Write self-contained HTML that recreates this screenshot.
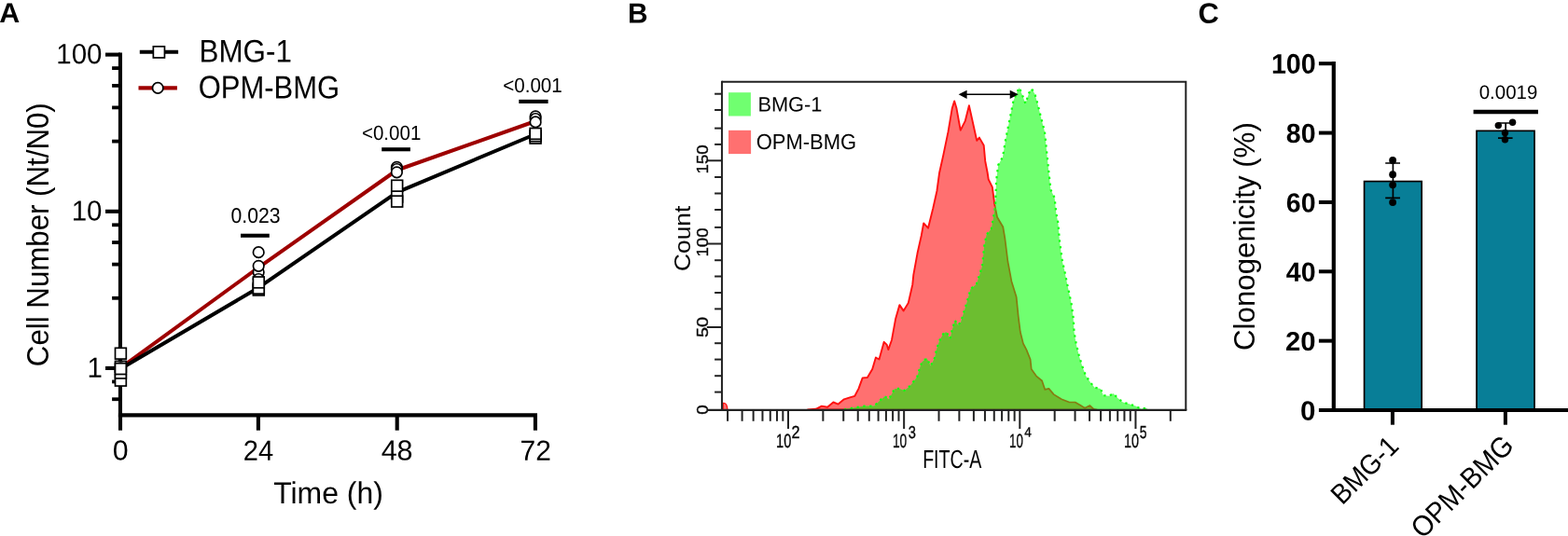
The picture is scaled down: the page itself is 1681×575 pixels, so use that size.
<!DOCTYPE html>
<html lang="en"><head><meta charset="utf-8"><title>Figure</title>
<style>html,body{margin:0;padding:0;background:#fff;}body{width:1681px;height:575px;overflow:hidden;}svg{display:block;}text{font-family:"Liberation Sans", Arial, Helvetica, sans-serif;fill:#000;}</style>
</head><body>
<svg width="1681" height="575" viewBox="0 0 1681 575">
<rect width="1681" height="575" fill="#fff"/>
<g id="panelA">
<text transform="translate(-0.76 24.00) rotate(0.03) scale(1.0149 1)" font-size="30.00" font-weight="bold">A</text>
<g stroke="#000" stroke-width="4.10" fill="none">
<path d="M128.95 56.55 V447.40"/>
<path d="M126.90 445.35 H575.95"/>
<path d="M113.00 58.60 H128.95"/>
<path d="M113.00 226.80 H128.95"/>
<path d="M113.00 394.95 H128.95"/>
<path d="M120.10 73.10 H128.95" stroke-width="3.8"/>
<path d="M120.10 91.90 H128.95" stroke-width="3.8"/>
<path d="M120.10 115.40 H128.95" stroke-width="3.8"/>
<path d="M120.10 151.60 H128.95" stroke-width="3.8"/>
<path d="M120.10 241.30 H128.95" stroke-width="3.8"/>
<path d="M120.10 260.10 H128.95" stroke-width="3.8"/>
<path d="M120.10 283.60 H128.95" stroke-width="3.8"/>
<path d="M120.10 319.80 H128.95" stroke-width="3.8"/>
<path d="M120.10 409.45 H128.95" stroke-width="3.8"/>
<path d="M120.10 428.25 H128.95" stroke-width="3.8"/>
<path d="M129.00 445.35 V461.70"/>
<path d="M276.90 445.35 V461.70"/>
<path d="M425.70 445.35 V461.70"/>
<path d="M573.90 445.35 V461.70"/>
</g>
<text transform="translate(60.29 68.29) rotate(0.03) scale(0.9647 1)" font-size="30.56">100</text>
<text transform="translate(76.65 236.54) rotate(0.03) scale(0.9647 1)" font-size="30.56">10</text>
<text transform="translate(93.51 404.69) rotate(0.03) scale(0.9647 1)" font-size="30.56">1</text>
<text transform="translate(120.69 493.60) rotate(0.03) scale(0.9965 1)" font-size="30.42">0</text>
<text transform="translate(260.74 493.70) rotate(0.03) scale(0.9527 1)" font-size="30.57">24</text>
<text transform="translate(408.64 493.60) rotate(0.03) scale(1.0034 1)" font-size="30.42">48</text>
<text transform="translate(557.50 493.70) rotate(0.03) scale(0.9813 1)" font-size="30.57">72</text>
<text transform="translate(293.16 540.05) rotate(0.03) scale(0.9793 1)" font-size="32.62">Time (h)</text>
<text transform="translate(52.23 393.16) rotate(-90) scale(0.9548 1)" font-size="32.73">Cell Number (Nt/N0)</text>
<polyline points="129.0,394.9 277.0,287.1 425.5,182.5 574.0,130.0" fill="none" stroke="#9e0000" stroke-width="4" stroke-linejoin="round"/>
<polyline points="129.0,395.8 277.0,308.7 425.5,206.3 574.0,144.0" fill="none" stroke="#000" stroke-width="4" stroke-linejoin="round"/>
<rect x="123.50" y="402.25" width="11.80" height="11.80" fill="#fff" stroke="#000" stroke-width="1.70"/>
<rect x="123.50" y="394.15" width="11.80" height="11.80" fill="#fff" stroke="#000" stroke-width="1.70"/>
<rect x="123.50" y="387.40" width="11.80" height="11.80" fill="#fff" stroke="#000" stroke-width="1.70"/>
<circle cx="129.40" cy="394.95" r="5.75" fill="#fff" stroke="#000" stroke-width="1.70"/>
<rect x="123.50" y="389.70" width="11.80" height="11.80" fill="#fff" stroke="#000" stroke-width="1.70"/>
<rect x="123.50" y="373.30" width="11.80" height="11.80" fill="#fff" stroke="#000" stroke-width="1.70"/>
<circle cx="277.20" cy="292.00" r="5.75" fill="#fff" stroke="#000" stroke-width="1.70"/>
<circle cx="277.20" cy="299.50" r="5.75" fill="#fff" stroke="#000" stroke-width="1.70"/>
<circle cx="277.20" cy="285.30" r="5.75" fill="#fff" stroke="#000" stroke-width="1.70"/>
<circle cx="277.20" cy="270.65" r="5.75" fill="#fff" stroke="#000" stroke-width="1.70"/>
<rect x="271.40" y="305.10" width="11.80" height="11.80" fill="#fff" stroke="#000" stroke-width="1.70"/>
<rect x="271.40" y="303.30" width="11.80" height="11.80" fill="#fff" stroke="#000" stroke-width="1.70"/>
<rect x="271.40" y="297.00" width="11.80" height="11.80" fill="#fff" stroke="#000" stroke-width="1.70"/>
<circle cx="425.40" cy="179.30" r="5.75" fill="#fff" stroke="#000" stroke-width="1.70"/>
<circle cx="425.40" cy="181.50" r="5.75" fill="#fff" stroke="#000" stroke-width="1.70"/>
<circle cx="425.40" cy="184.80" r="5.75" fill="#fff" stroke="#000" stroke-width="1.70"/>
<rect x="419.80" y="205.10" width="11.80" height="11.80" fill="#fff" stroke="#000" stroke-width="1.70"/>
<rect x="419.80" y="210.20" width="11.80" height="11.80" fill="#fff" stroke="#000" stroke-width="1.70"/>
<rect x="419.80" y="193.30" width="11.80" height="11.80" fill="#fff" stroke="#000" stroke-width="1.70"/>
<rect x="568.20" y="142.20" width="11.80" height="11.80" fill="#fff" stroke="#000" stroke-width="1.70"/>
<rect x="568.20" y="139.90" width="11.80" height="11.80" fill="#fff" stroke="#000" stroke-width="1.70"/>
<rect x="568.20" y="137.50" width="11.80" height="11.80" fill="#fff" stroke="#000" stroke-width="1.70"/>
<circle cx="574.10" cy="124.80" r="5.75" fill="#fff" stroke="#000" stroke-width="1.70"/>
<circle cx="574.10" cy="127.50" r="5.75" fill="#fff" stroke="#000" stroke-width="1.70"/>
<circle cx="574.10" cy="130.90" r="5.75" fill="#fff" stroke="#000" stroke-width="1.70"/>
<text transform="translate(247.55 238.97) rotate(0.03) scale(0.9235 1)" font-size="22.96">0.023</text>
<path d="M258.0 252.75 H288.8" stroke="#000" stroke-width="4.1"/>
<text transform="translate(387.97 149.98) rotate(0.03) scale(0.9347 1)" font-size="21.97">&lt;0.001</text>
<path d="M409.2 160.25 H439.9" stroke="#000" stroke-width="4.1"/>
<text transform="translate(539.17 99.08) rotate(0.03) scale(0.9392 1)" font-size="21.97">&lt;0.001</text>
<path d="M556.3 108.9 H587.6" stroke="#000" stroke-width="4.1"/>
<path d="M149.8 55.8 H191.1" stroke="#000" stroke-width="4"/>
<rect x="164.35" y="49.85" width="12.10" height="12.10" fill="#fff" stroke="#000" stroke-width="1.70"/>
<path d="M148.5 94.4 H189.9" stroke="#9e0000" stroke-width="4.2"/>
<circle cx="169.20" cy="94.40" r="5.70" fill="#fff" stroke="#000" stroke-width="1.70"/>
<text transform="translate(213.49 66.46) rotate(0.03) scale(0.9203 1)" font-size="34.08">BMG-1</text>
<text transform="translate(212.76 105.36) rotate(0.03) scale(0.9013 1)" font-size="34.37">OPM-BMG</text>
</g>
<g id="panelB">
<text transform="translate(673.06 24.40) rotate(0.03) scale(0.9850 1)" font-size="30.29" font-weight="bold">B</text>
<defs><clipPath id="gclip"><polygon points="905.0,439.5 907.0,438.8 926.8,435.6 937.2,435.6 943.5,429.4 948.7,425.2 952.9,428.3 959.2,416.9 964.4,416.9 969.6,418.9 975.9,413.7 983.2,404.3 986.3,393.9 988.4,388.3 993.6,384.2 997.7,392.5 1001.9,384.2 1004.0,374.8 1007.1,365.4 1011.3,358.1 1014.4,356.0 1018.6,363.3 1020.7,353.9 1023.8,343.5 1027.0,348.7 1030.1,345.5 1033.2,335.1 1036.4,324.7 1040.5,310.1 1046.8,304.8 1049.9,295.4 1053.1,285.0 1055.1,264.3 1057.6,251.8 1062.8,245.5 1064.9,234.0 1067.0,220.5 1067.7,205.0 1068.1,193.6 1070.2,176.9 1075.0,168.5 1078.1,149.7 1082.3,128.8 1086.5,108.0 1089.6,100.7 1092.7,93.8 1095.9,101.7 1099.4,111.1 1103.2,99.6 1105.9,95.0 1109.4,100.7 1112.6,112.1 1116.7,128.8 1120.0,141.4 1124.4,185.0 1126.5,203.8 1130.6,212.1 1132.3,228.8 1134.4,239.3 1135.9,258.1 1139.0,281.0 1141.1,289.4 1144.2,305.0 1148.5,325.0 1150.5,339.6 1151.6,356.3 1153.7,368.8 1156.8,381.4 1159.9,391.8 1164.1,403.3 1169.3,410.6 1173.5,415.8 1179.8,416.9 1182.9,424.2 1189.2,424.8 1193.3,422.1 1198.6,427.3 1203.8,431.5 1211.1,433.6 1217.3,435.6 1223.6,438.8 1228.8,437.7 1231.0,439.5"/></clipPath><clipPath id="rclip"><polygon points="866.0,439.5 874.6,438.8 880.9,435.6 887.1,436.7 893.4,431.5 898.6,433.6 904.9,428.3 911.1,426.3 916.4,424.8 920.5,416.9 924.7,405.4 929.9,405.0 935.2,396.0 938.9,383.5 942.5,385.5 947.7,366.8 950.8,369.9 952.3,375.1 956.0,364.7 960.2,341.7 964.4,327.1 968.6,333.4 973.8,325.0 978.3,305.2 979.3,294.8 983.5,271.8 987.7,253.0 990.2,239.4 995.0,244.7 1000.2,223.8 1004.4,205.0 1007.1,185.2 1011.3,166.4 1016.5,141.4 1020.7,116.3 1023.2,108.4 1025.5,116.3 1029.7,139.7 1034.7,129.9 1038.9,113.2 1042.6,129.9 1047.2,150.8 1049.9,147.6 1054.7,156.0 1056.2,172.7 1058.6,185.0 1059.7,192.3 1063.8,200.7 1066.3,219.4 1069.1,233.0 1075.3,243.5 1077.4,256.0 1080.5,281.0 1081.3,285.0 1084.4,301.7 1089.6,318.4 1091.7,339.3 1093.8,356.0 1096.9,368.5 1100.4,375.1 1104.6,385.5 1105.7,396.0 1110.9,403.3 1117.1,408.5 1120.3,417.9 1124.4,416.9 1129.7,423.1 1138.0,428.3 1146.4,431.5 1152.6,431.5 1157.8,434.6 1163.1,437.7 1168.3,435.0 1172.5,438.8 1176.0,439.5"/></clipPath></defs>
<rect x="773.95" y="87.65" width="497.35" height="352.25" fill="#fff"/>
<polygon points="866.0,439.5 874.6,438.8 880.9,435.6 887.1,436.7 893.4,431.5 898.6,433.6 904.9,428.3 911.1,426.3 916.4,424.8 920.5,416.9 924.7,405.4 929.9,405.0 935.2,396.0 938.9,383.5 942.5,385.5 947.7,366.8 950.8,369.9 952.3,375.1 956.0,364.7 960.2,341.7 964.4,327.1 968.6,333.4 973.8,325.0 978.3,305.2 979.3,294.8 983.5,271.8 987.7,253.0 990.2,239.4 995.0,244.7 1000.2,223.8 1004.4,205.0 1007.1,185.2 1011.3,166.4 1016.5,141.4 1020.7,116.3 1023.2,108.4 1025.5,116.3 1029.7,139.7 1034.7,129.9 1038.9,113.2 1042.6,129.9 1047.2,150.8 1049.9,147.6 1054.7,156.0 1056.2,172.7 1058.6,185.0 1059.7,192.3 1063.8,200.7 1066.3,219.4 1069.1,233.0 1075.3,243.5 1077.4,256.0 1080.5,281.0 1081.3,285.0 1084.4,301.7 1089.6,318.4 1091.7,339.3 1093.8,356.0 1096.9,368.5 1100.4,375.1 1104.6,385.5 1105.7,396.0 1110.9,403.3 1117.1,408.5 1120.3,417.9 1124.4,416.9 1129.7,423.1 1138.0,428.3 1146.4,431.5 1152.6,431.5 1157.8,434.6 1163.1,437.7 1168.3,435.0 1172.5,438.8 1176.0,439.5" fill="#ff7070" stroke="#ff1010" stroke-width="1.9" stroke-linejoin="round"/>
<polygon points="905.0,439.5 907.0,438.8 926.8,435.6 937.2,435.6 943.5,429.4 948.7,425.2 952.9,428.3 959.2,416.9 964.4,416.9 969.6,418.9 975.9,413.7 983.2,404.3 986.3,393.9 988.4,388.3 993.6,384.2 997.7,392.5 1001.9,384.2 1004.0,374.8 1007.1,365.4 1011.3,358.1 1014.4,356.0 1018.6,363.3 1020.7,353.9 1023.8,343.5 1027.0,348.7 1030.1,345.5 1033.2,335.1 1036.4,324.7 1040.5,310.1 1046.8,304.8 1049.9,295.4 1053.1,285.0 1055.1,264.3 1057.6,251.8 1062.8,245.5 1064.9,234.0 1067.0,220.5 1067.7,205.0 1068.1,193.6 1070.2,176.9 1075.0,168.5 1078.1,149.7 1082.3,128.8 1086.5,108.0 1089.6,100.7 1092.7,93.8 1095.9,101.7 1099.4,111.1 1103.2,99.6 1105.9,95.0 1109.4,100.7 1112.6,112.1 1116.7,128.8 1120.0,141.4 1124.4,185.0 1126.5,203.8 1130.6,212.1 1132.3,228.8 1134.4,239.3 1135.9,258.1 1139.0,281.0 1141.1,289.4 1144.2,305.0 1148.5,325.0 1150.5,339.6 1151.6,356.3 1153.7,368.8 1156.8,381.4 1159.9,391.8 1164.1,403.3 1169.3,410.6 1173.5,415.8 1179.8,416.9 1182.9,424.2 1189.2,424.8 1193.3,422.1 1198.6,427.3 1203.8,431.5 1211.1,433.6 1217.3,435.6 1223.6,438.8 1228.8,437.7 1231.0,439.5" fill="#70ff70"/>
<g clip-path="url(#gclip)"><polygon points="866.0,439.5 874.6,438.8 880.9,435.6 887.1,436.7 893.4,431.5 898.6,433.6 904.9,428.3 911.1,426.3 916.4,424.8 920.5,416.9 924.7,405.4 929.9,405.0 935.2,396.0 938.9,383.5 942.5,385.5 947.7,366.8 950.8,369.9 952.3,375.1 956.0,364.7 960.2,341.7 964.4,327.1 968.6,333.4 973.8,325.0 978.3,305.2 979.3,294.8 983.5,271.8 987.7,253.0 990.2,239.4 995.0,244.7 1000.2,223.8 1004.4,205.0 1007.1,185.2 1011.3,166.4 1016.5,141.4 1020.7,116.3 1023.2,108.4 1025.5,116.3 1029.7,139.7 1034.7,129.9 1038.9,113.2 1042.6,129.9 1047.2,150.8 1049.9,147.6 1054.7,156.0 1056.2,172.7 1058.6,185.0 1059.7,192.3 1063.8,200.7 1066.3,219.4 1069.1,233.0 1075.3,243.5 1077.4,256.0 1080.5,281.0 1081.3,285.0 1084.4,301.7 1089.6,318.4 1091.7,339.3 1093.8,356.0 1096.9,368.5 1100.4,375.1 1104.6,385.5 1105.7,396.0 1110.9,403.3 1117.1,408.5 1120.3,417.9 1124.4,416.9 1129.7,423.1 1138.0,428.3 1146.4,431.5 1152.6,431.5 1157.8,434.6 1163.1,437.7 1168.3,435.0 1172.5,438.8 1176.0,439.5" fill="#6cbe30" stroke="#857c12" stroke-width="1.7" stroke-linejoin="round"/></g>
<polyline points="905.0,439.5 907.0,438.8 926.8,435.6 937.2,435.6 943.5,429.4 948.7,425.2 952.9,428.3 959.2,416.9 964.4,416.9 969.6,418.9 975.9,413.7 983.2,404.3 986.3,393.9 988.4,388.3 993.6,384.2 997.7,392.5 1001.9,384.2 1004.0,374.8 1007.1,365.4 1011.3,358.1 1014.4,356.0 1018.6,363.3 1020.7,353.9 1023.8,343.5 1027.0,348.7 1030.1,345.5 1033.2,335.1 1036.4,324.7 1040.5,310.1 1046.8,304.8 1049.9,295.4 1053.1,285.0 1055.1,264.3 1057.6,251.8 1062.8,245.5 1064.9,234.0 1067.0,220.5 1067.7,205.0 1068.1,193.6 1070.2,176.9 1075.0,168.5 1078.1,149.7 1082.3,128.8 1086.5,108.0 1089.6,100.7 1092.7,93.8 1095.9,101.7 1099.4,111.1 1103.2,99.6 1105.9,95.0 1109.4,100.7 1112.6,112.1 1116.7,128.8 1120.0,141.4 1124.4,185.0 1126.5,203.8 1130.6,212.1 1132.3,228.8 1134.4,239.3 1135.9,258.1 1139.0,281.0 1141.1,289.4 1144.2,305.0 1148.5,325.0 1150.5,339.6 1151.6,356.3 1153.7,368.8 1156.8,381.4 1159.9,391.8 1164.1,403.3 1169.3,410.6 1173.5,415.8 1179.8,416.9 1182.9,424.2 1189.2,424.8 1193.3,422.1 1198.6,427.3 1203.8,431.5 1211.1,433.6 1217.3,435.6 1223.6,438.8 1228.8,437.7 1231.0,439.5" fill="none" stroke="#10ff10" stroke-width="2.2" stroke-dasharray="2.3 4.6"/>
<path d="M775.3 439 V432.5 Q779.5 432 779.8 439" fill="#ff7070" stroke="#ff1414" stroke-width="1.3"/>
<rect x="781.0" y="99.2" width="23.9" height="25.3" fill="#70ff70"/>
<rect x="781.0" y="139.8" width="24.1" height="25.3" fill="#ff7070"/>
<text transform="translate(812.46 119.58) rotate(0.03) scale(0.9818 1)" font-size="22.18">BMG-1</text>
<text transform="translate(810.71 160.07) rotate(0.03) scale(0.9463 1)" font-size="23.24">OPM-BMG</text>
<path d="M1034 101.3 H1085" stroke="#000" stroke-width="1.6"/>
<path d="M1027.6 101.3 L1036.6 96.7 V105.9 Z M1091.7 101.3 L1082.7 96.7 V105.9 Z" fill="#000"/>
<g stroke="#222" stroke-width="2" fill="none">
<path d="M773.95 87.65 H1271.30 V439.90"/>
<path d="M773.95 86.80 V440.80"/>
<path d="M758.50 439.90 H1272.30" stroke-width="2.3"/>
<path d="M766.10 420.60 H773.95"/>
<path d="M766.10 403.20 H773.95"/>
<path d="M766.10 385.60 H773.95"/>
<path d="M766.10 368.20 H773.95"/>
<path d="M757.80 351.00 H773.95"/>
<path d="M766.10 331.40 H773.95"/>
<path d="M766.10 314.00 H773.95"/>
<path d="M766.10 296.50 H773.95"/>
<path d="M766.10 279.20 H773.95"/>
<path d="M757.80 261.50 H773.95"/>
<path d="M766.10 243.90 H773.95"/>
<path d="M766.10 225.00 H773.95"/>
<path d="M766.10 207.50 H773.95"/>
<path d="M766.10 190.00 H773.95"/>
<path d="M757.80 172.30 H773.95"/>
<path d="M766.10 154.90 H773.95"/>
<path d="M766.10 137.60 H773.95"/>
<path d="M766.10 118.00 H773.95"/>
<path d="M766.10 100.70 H773.95"/>
<path d="M780.08 439.90 V451.80"/>
<path d="M795.60 439.90 V451.80"/>
<path d="M807.63 439.90 V451.80"/>
<path d="M817.46 439.90 V451.80"/>
<path d="M825.77 439.90 V451.80"/>
<path d="M832.97 439.90 V451.80"/>
<path d="M839.32 439.90 V451.80"/>
<path d="M845.00 439.90 V460.00"/>
<path d="M882.37 439.90 V451.80"/>
<path d="M904.23 439.90 V451.80"/>
<path d="M919.75 439.90 V451.80"/>
<path d="M931.78 439.90 V451.80"/>
<path d="M941.61 439.90 V451.80"/>
<path d="M949.92 439.90 V451.80"/>
<path d="M957.12 439.90 V451.80"/>
<path d="M963.47 439.90 V451.80"/>
<path d="M969.15 439.90 V460.00"/>
<path d="M1006.52 439.90 V451.80"/>
<path d="M1028.38 439.90 V451.80"/>
<path d="M1043.90 439.90 V451.80"/>
<path d="M1055.93 439.90 V451.80"/>
<path d="M1065.76 439.90 V451.80"/>
<path d="M1074.07 439.90 V451.80"/>
<path d="M1081.27 439.90 V451.80"/>
<path d="M1087.62 439.90 V451.80"/>
<path d="M1093.30 439.90 V460.00"/>
<path d="M1130.67 439.90 V451.80"/>
<path d="M1152.53 439.90 V451.80"/>
<path d="M1168.05 439.90 V451.80"/>
<path d="M1180.08 439.90 V451.80"/>
<path d="M1189.91 439.90 V451.80"/>
<path d="M1198.22 439.90 V451.80"/>
<path d="M1205.42 439.90 V451.80"/>
<path d="M1211.77 439.90 V451.80"/>
<path d="M1217.45 439.90 V460.00"/>
<path d="M1254.82 439.90 V451.80"/>
</g>
<text transform="translate(740.17 290.92) rotate(-90) scale(1.1326 1)" font-size="23.24" fill="#333">Count</text>
<g stroke="#222" stroke-width="0.45">
<text transform="translate(759.23 186.51) rotate(-90) scale(1.0907 1)" font-size="17.18" fill="#222">150</text>
<text transform="translate(759.23 275.49) rotate(-90) scale(1.0813 1)" font-size="17.18" fill="#222">100</text>
<text transform="translate(759.23 361.99) rotate(-90) scale(1.1470 1)" font-size="17.18" fill="#222">50</text>
<text transform="translate(759.23 444.65) rotate(-90) scale(1.0904 1)" font-size="17.18" fill="#222">0</text>
</g>
<g stroke="#222" stroke-width="0.4">
<text transform="translate(832.11 480.39) rotate(0.03) scale(0.6991 1)" font-size="20.85" fill="#222">10</text>
<text transform="translate(848.49 470.00) rotate(0.03) scale(0.8625 1)" font-size="18.86" fill="#222">2</text>
<text transform="translate(956.97 480.39) rotate(0.03) scale(0.6605 1)" font-size="20.85" fill="#222">10</text>
<text transform="translate(973.81 469.81) rotate(0.03) scale(0.7897 1)" font-size="18.59" fill="#222">3</text>
<text transform="translate(1082.01 480.39) rotate(0.03) scale(0.6364 1)" font-size="20.85" fill="#222">10</text>
<text transform="translate(1098.26 468.60) rotate(0.03) scale(0.9384 1)" font-size="14.49" fill="#222">4</text>
<text transform="translate(1205.12 480.39) rotate(0.03) scale(0.6895 1)" font-size="20.85" fill="#222">10</text>
<text transform="translate(1221.74 469.81) rotate(0.03) scale(0.7368 1)" font-size="18.86" fill="#222">5</text>
</g>
<text transform="translate(989.13 502.12) rotate(0.03) scale(0.7106 1)" font-size="27.61" fill="#222">FITC-A</text>
</g>
<g id="panelC">
<text transform="translate(1284.41 24.69) rotate(0.03) scale(1.0023 1)" font-size="30.85" font-weight="bold">C</text>
<g stroke="#000" stroke-width="4.20" fill="none">
<path d="M1429.80 66.10 V442.10"/>
<path d="M1413.90 440.00 H1681"/>
<path d="M1413.90 365.64 H1429.80" stroke-width="4"/>
<path d="M1413.90 291.28 H1429.80" stroke-width="4"/>
<path d="M1413.90 216.92 H1429.80" stroke-width="4"/>
<path d="M1413.90 142.56 H1429.80" stroke-width="4"/>
<path d="M1413.90 68.20 H1429.80" stroke-width="4"/>
<path d="M1492.90 440.00 V455.70" stroke-width="4"/>
<path d="M1613.90 440.00 V455.70" stroke-width="4"/>
</g>
<text transform="translate(1378.84 152.91) rotate(0.03) scale(0.9779 1)" font-size="29.15" font-weight="bold">80</text>
<text transform="translate(1362.94 78.80) rotate(0.03) scale(0.9551 1)" font-size="30.00" font-weight="bold">100</text>
<text transform="translate(1378.84 227.43) rotate(0.03) scale(0.9779 1)" font-size="29.15" font-weight="bold">60</text>
<text transform="translate(1378.84 301.79) rotate(0.03) scale(0.9779 1)" font-size="29.15" font-weight="bold">40</text>
<text transform="translate(1378.08 376.01) rotate(0.03) scale(1.0172 1)" font-size="28.73" font-weight="bold">20</text>
<text transform="translate(1393.92 450.70) rotate(0.03) scale(0.9989 1)" font-size="29.51" font-weight="bold">0</text>
<rect x="1462.55" y="194.55" width="61.60" height="245.45" fill="#087e97" stroke="#000" stroke-width="1.7"/>
<rect x="1583.05" y="140.35" width="62.00" height="299.65" fill="#087e97" stroke="#000" stroke-width="1.7"/>
<path d="M1440 440.00 H1681" stroke="#000" stroke-width="4.20"/>
<g stroke="#000" stroke-width="1.7" fill="none">
<path d="M1493.4 175 V212.3 M1485.2 175 H1501 M1485.2 212.3 H1501"/>
<path d="M1614.2 132 V148.2 M1606 132 H1621.8 M1606 148.2 H1621.6"/>
</g>
<circle cx="1493.1" cy="171.9" r="3.9" fill="#000"/>
<circle cx="1493.1" cy="187.2" r="3.9" fill="#000"/>
<circle cx="1493.1" cy="198.3" r="3.9" fill="#000"/>
<circle cx="1493.1" cy="217.1" r="3.9" fill="#000"/>
<circle cx="1621.6" cy="131.3" r="3.7" fill="#000"/>
<circle cx="1606.3" cy="134.6" r="3.7" fill="#000"/>
<circle cx="1613.5" cy="142.5" r="3.7" fill="#000"/>
<circle cx="1613.5" cy="149.8" r="3.7" fill="#000"/>
<text transform="translate(1345.05 375.96) rotate(-90) scale(0.9784 1)" font-size="31.93">Clonogenicity (%)</text>
<text transform="translate(1439.09 542.45) rotate(-45) scale(0.9300 1)" font-size="29.83">BMG-1</text>
<text transform="translate(1525.32 579.10) rotate(-45) scale(0.9300 1)" font-size="30.90">OPM-BMG</text>
<text transform="translate(1585.68 106.09) rotate(0.03) scale(0.9820 1)" font-size="20.85">0.0019</text>
<path d="M1579.6 120 H1649" stroke="#000" stroke-width="4.4"/>
</g>
</svg>
</body></html>
